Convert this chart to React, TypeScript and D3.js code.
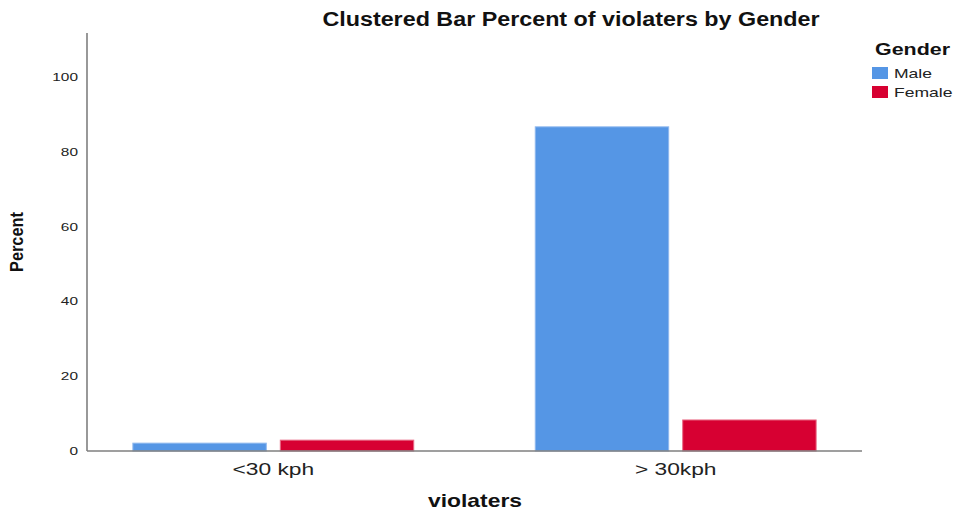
import React from "react";
import * as d3 from "d3";

const categories = ["<30 kph", "> 30kph"];
const genders = ["Male", "Female"];
const maleValues = [2.1, 86.7];
const femaleValues = [2.9, 8.3];
const yTicks = [0, 20, 40, 60, 80, 100];
const colors = ["#5596e5", "#d70032"];
const strokeColors = ["#8fb8ee", "#e86a85"];

const W = 960;
const H = 510;
const left = 87;
const right = 862;
const top = 33;
const bottom = 451;
const font = "'Liberation Sans', Arial, sans-serif";

type TProps = {
  x: number;
  y: number;
  sx?: number;
  size: number;
  bold?: boolean;
  anchor?: "start" | "middle" | "end";
  fill?: string;
  children: React.ReactNode;
};

function SText({ x, y, sx = 1, size, bold, anchor = "start", fill = "#222", children }: TProps) {
  return (
    <text
      transform={`translate(${x},${y}) scale(${sx},1)`}
      textAnchor={anchor}
      fontFamily={font}
      fontWeight={bold ? "bold" : "normal"}
      fontSize={size}
      fill={fill}
    >
      {children}
    </text>
  );
}

export default function App() {
  const x = d3.scaleBand<string>().domain(categories).range([left, right]).paddingInner(0.302).paddingOuter(0.114);
  const xs = d3.scaleBand<string>().domain(genders).range([0, x.bandwidth()]).paddingInner(0.095).paddingOuter(0);
  const y = d3.scaleLinear().domain([0, 111.8]).range([bottom, top]);
  const series = [maleValues, femaleValues];

  return (
    <svg width={W} height={H} style={{ position: "absolute", left: 0, top: 0, background: "#fff" }}>
      <SText x={571} y={26} sx={1.11} size={21} bold anchor="middle" fill="#111">
        Clustered Bar Percent of violaters by Gender
      </SText>
      {categories.map((c, i) =>
        genders.map((g, j) => {
          const v = series[j][i];
          const bx = (x(c) ?? 0) + (xs(g) ?? 0);
          return (
            <rect key={c + g} x={bx} y={y(v)} width={xs.bandwidth()} height={y(0) - y(v)}
              fill={colors[j]} stroke={strokeColors[j]} strokeWidth={1} />
          );
        })
      )}
      <line x1={left} x2={left} y1={top} y2={bottom} stroke="#7f7f7f" strokeWidth={1.6} />
      <line x1={left} x2={right} y1={bottom} y2={bottom} stroke="#7f7f7f" strokeWidth={1.6} />
      {yTicks.map((t) => (
        <SText key={t} x={78} y={y(t) + 4} sx={1.4} size={11} anchor="end">
          {t}
        </SText>
      ))}
      {categories.map((c) => (
        <SText key={c} x={(x(c) ?? 0) + x.bandwidth() / 2} y={475} sx={1.38} size={16.5} anchor="middle">
          {c}
        </SText>
      ))}
      <SText x={475} y={507} sx={1.27} size={18} bold anchor="middle" fill="#111">
        violaters
      </SText>
      <text transform="translate(23,242) rotate(-90) scale(0.91,1)" textAnchor="middle" fontFamily={font} fontWeight="bold" fontSize={18} fill="#111">
        Percent
      </text>
      <SText x={875} y={55} sx={1.3} size={16.5} bold fill="#111">Gender</SText>
      {genders.map((g, j) => (
        <g key={g}>
          <rect x={872} y={67 + j * 19} width={16} height={12} fill={colors[j]} />
          <SText x={894} y={78 + j * 19} sx={1.35} size={13}>{g}</SText>
        </g>
      ))}
    </svg>
  );
}
